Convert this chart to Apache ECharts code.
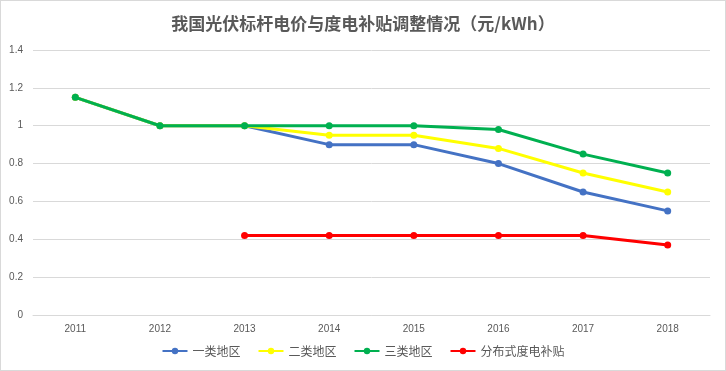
<!DOCTYPE html>
<html><head><meta charset="utf-8">
<script src="https://cdn.jsdelivr.net/npm/echarts@6/dist/echarts.min.js"></script>
<style>html,body{margin:0;padding:0;background:#fff}#c{width:726px;height:371px;box-sizing:border-box;border:1px solid #d9d9d9}</style>
</head><body><div id="c"></div>
<script>
const categories = ['2011','2012','2013','2014','2015','2016','2017','2018'];
const region1 = [1.15, 1.0, 1.0, 0.9, 0.9, 0.8, 0.65, 0.55];
const region2 = [1.15, 1.0, 1.0, 0.95, 0.95, 0.88, 0.75, 0.65];
const region3 = [1.15, 1.0, 1.0, 1.0, 1.0, 0.98, 0.85, 0.75];
const distributed = [null, null, 0.42, 0.42, 0.42, 0.42, 0.42, 0.37];
const names = ['一类地区','二类地区','三类地区','分布式度电补贴'];
const colors = ['#4472C4','#FFFF00','#00B050','#FF0000'];
const dataSets = [region1, region2, region3, distributed];

const chart = echarts.init(document.getElementById('c'), null, {renderer:'canvas'});
chart.setOption({
  animation:false,
  title:{text:'我国光伏标杆电价与度电补贴调整情况（元/kWh）',left:'center',top:9,
    textStyle:{fontFamily:'Noto Sans CJK SC',fontSize:17,fontWeight:'bold',color:'#595959'}},
  legend:{bottom:8,left:'center',itemWidth:25,itemHeight:8,itemGap:17,
    textStyle:{fontFamily:'Noto Sans CJK SC',fontSize:12,color:'#595959'},
    data:names},
  grid:{left:32,right:15,top:49,bottom:55,containLabel:false},
  xAxis:{type:'category',data:categories,boundaryGap:true,
    axisLine:{lineStyle:{color:'#d9d9d9'}},axisTick:{show:false},
    axisLabel:{color:'#595959',fontFamily:'Liberation Sans',fontSize:10,margin:9}},
  yAxis:{type:'value',min:0,max:1.4,interval:0.2,
    axisLine:{show:false},axisTick:{show:false},
    splitLine:{lineStyle:{color:'#d9d9d9'}},
    axisLabel:{color:'#595959',fontFamily:'Liberation Sans',fontSize:10,margin:10,
      formatter:v=>String(Math.round(v*10)/10)}},
  series:dataSets.map((d,i)=>({
    name:names[i],type:'line',data:d,symbol:'circle',symbolSize:7,
    lineStyle:{width:3,color:colors[i]},itemStyle:{color:colors[i]},
    connectNulls:false,z:2+i
  }))
});
</script></body></html>
